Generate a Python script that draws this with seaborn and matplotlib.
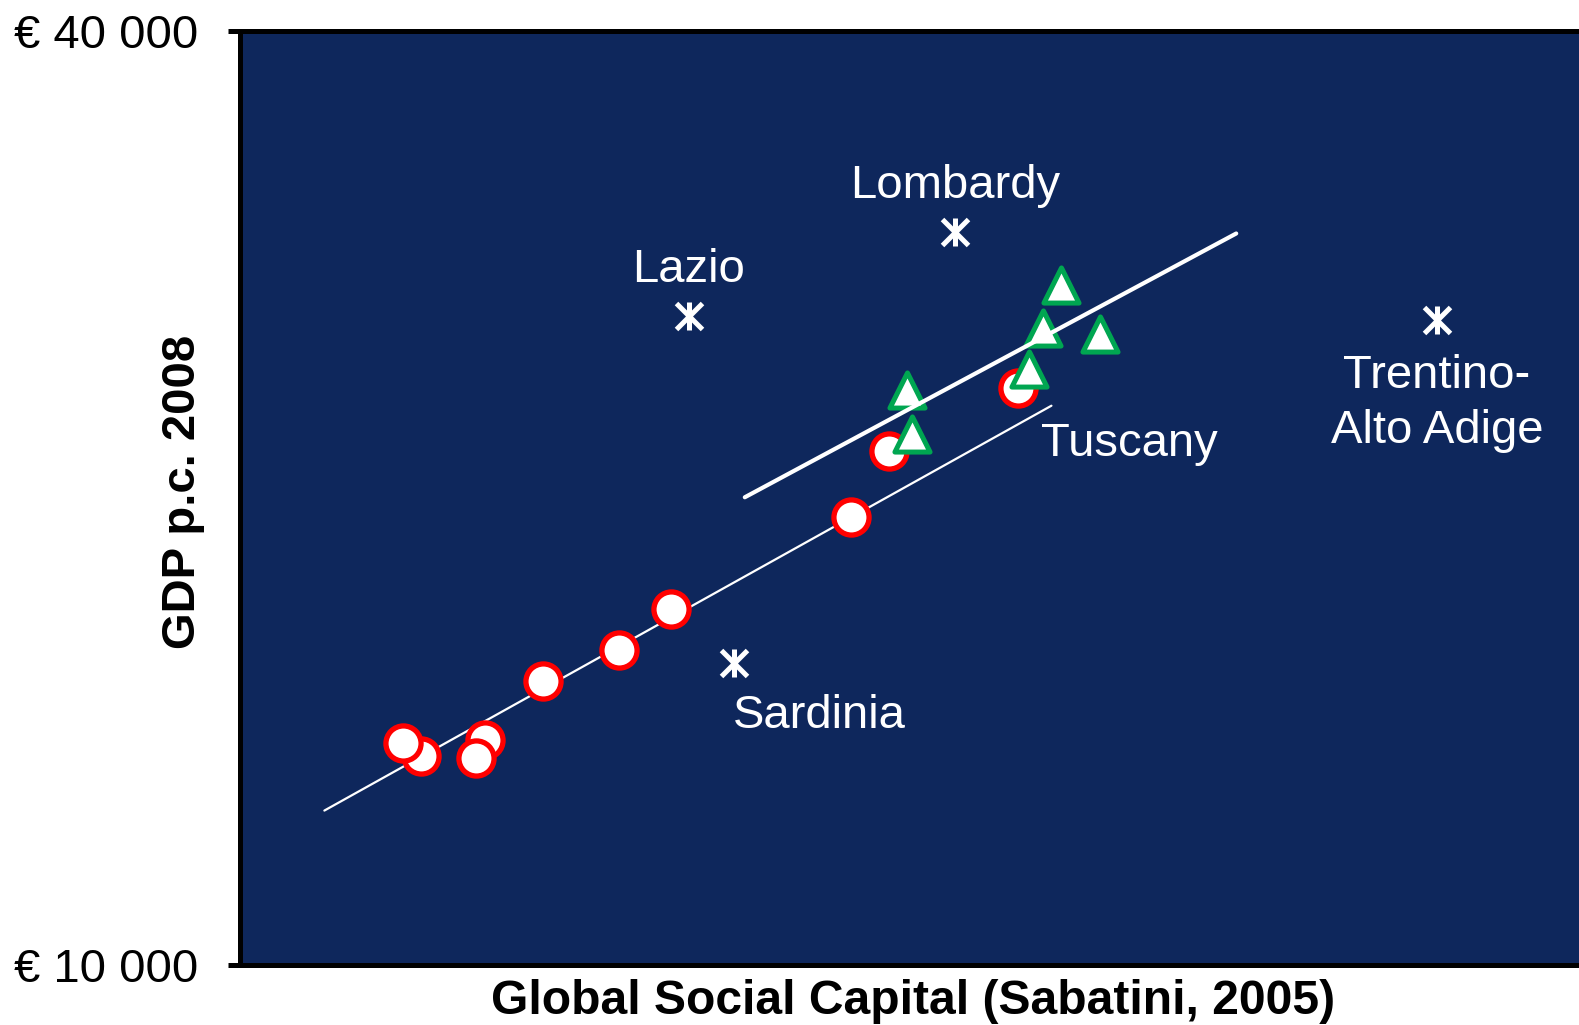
# -*- coding: utf-8 -*-

import pandas as pd
import matplotlib
matplotlib.use('Agg')
import matplotlib.pyplot as plt
import seaborn as sns

# Regions below the trend (red circles): social capital index, GDP p.c.
red_x = [13.5, 12.2, 18.3, 17.6, 22.6, 28.3, 32.2, 45.6, 48.5, 58.1]
red_y = [16700, 17130, 17220, 16640, 19130, 20100, 21430, 24400, 26510, 28540]

# Regions on the upper trend (green triangles)
green_x = [49.8, 50.2, 61.3, 60.0, 64.2, 58.9]
green_y = [28450, 27060, 31840, 30450, 30260, 29130]

# Outliers marked with a star
star_names = ['Lazio', 'Lombardy', 'Sardinia', 'Trentino-\nAlto Adige']
star_x = [33.5, 53.4, 36.9, 89.4]
star_y = [30840, 33530, 19710, 30710]

# Trend lines (end points)
low_line_x = [6.3, 60.6]
low_line_y = [14960, 27960]
high_line_x = [37.7, 74.4]
high_line_y = [25020, 33490]

# Free-standing label
tuscany_x = 59.8
tuscany_y = 26740

y_ticks = [10000, 40000]
y_tick_labels = ['€ 10 000', '€ 40 000']

navy = '#0E275C'
red = '#FF0000'
green = '#00A651'


def main():
    sns.set_theme(style='white')
    plt.rcParams['font.family'] = ['Liberation Sans', 'DejaVu Sans']

    fig = plt.figure(figsize=(15.79, 10.25), dpi=100)
    ax = fig.add_axes([0.152, 0.0585, 0.848, 0.9115])
    ax.set_facecolor(navy)

    # Trend line for the lower group sits behind the circles
    ax.plot(low_line_x, low_line_y, color='white', lw=1.6, zorder=1)

    red_df = pd.DataFrame({'x': red_x, 'y': red_y})
    sns.scatterplot(data=red_df, x='x', y='y', ax=ax, marker='o', s=640,
                    color='white', edgecolor=red, linewidth=3.8, zorder=3)

    green_df = pd.DataFrame({'x': green_x, 'y': green_y})
    sns.scatterplot(data=green_df, x='x', y='y', ax=ax, marker='^', s=640,
                    color='white', edgecolor=green, linewidth=3.6, zorder=4)

    ax.plot(high_line_x, high_line_y, color='white', lw=3, zorder=5)

    # Star markers: an x with a vertical bar through it
    ax.plot(star_x, star_y, ls='none', marker='x', ms=19, mew=3.6,
            color='white', zorder=6)
    ax.plot(star_x, star_y, ls='none', marker='|', ms=20, mew=3.6,
            color='white', zorder=6)

    lab_kw = dict(color='white', fontsize=34, zorder=7,
                  textcoords='offset points')
    for name, x, y in zip(star_names, star_x, star_y):
        if name == 'Sardinia':
            ax.annotate(name, (x, y), xytext=(-1, -38.5), ha='left',
                        va='center', **lab_kw)
        elif name.startswith('Trentino'):
            ax.annotate(name, (x, y), xytext=(0, -60), ha='center',
                        va='center', linespacing=1.32, **lab_kw)
        else:
            ax.annotate(name, (x, y), xytext=(0, 33), ha='center',
                        va='center', **lab_kw)
    ax.text(tuscany_x, tuscany_y, 'Tuscany', color='white', fontsize=34,
            ha='left', va='center', zorder=7)

    ax.set_xlim(0, 100)
    ax.set_ylim(10000, 40000)
    ax.set_xticks([])
    ax.set_yticks(y_ticks)
    ax.set_yticklabels(y_tick_labels)
    ax.tick_params(axis='y', length=9, width=3.6, color='black',
                   labelsize=34, pad=21, labelcolor='black', left=True)

    for side in ['left', 'top', 'bottom']:
        ax.spines[side].set_visible(True)
        ax.spines[side].set_color('black')
        ax.spines[side].set_linewidth(3.6)
    ax.spines['right'].set_visible(False)

    ax.set_xlabel('Global Social Capital (Sabatini, 2005)', fontsize=34.6,
                  fontweight='bold', color='black')
    ax.set_ylabel('GDP p.c. 2008', fontsize=34, fontweight='bold',
                  color='black')
    ax.xaxis.label.set_va('center')
    ax.yaxis.label.set_va('center')
    ax.xaxis.set_label_coords(0.503, -0.0385)
    ax.yaxis.set_label_coords(-0.0425, 0.506)

    fig.savefig('out.png', dpi=100, facecolor='white')
    plt.close(fig)


if __name__ == '__main__':
    main()
